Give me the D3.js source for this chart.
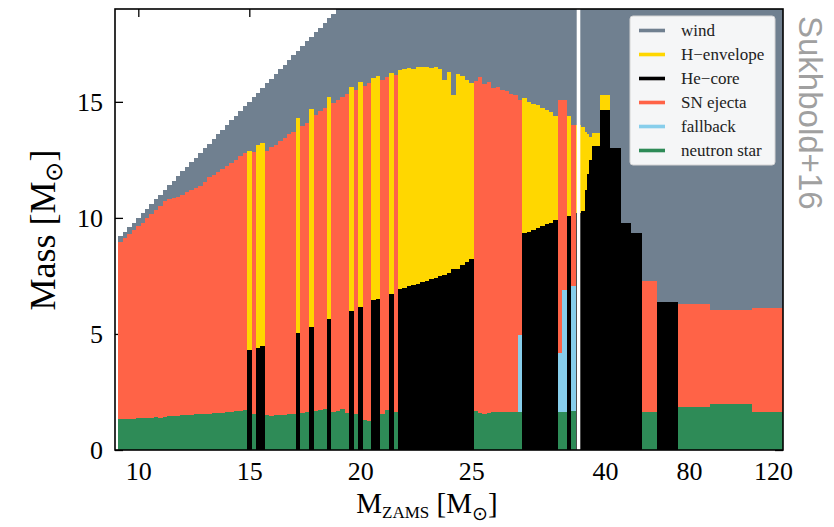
<!DOCTYPE html>
<html>
<head>
<meta charset="utf-8">
<title>Final fates of massive stars</title>
<script src="https://cdn.jsdelivr.net/npm/d3@7/dist/d3.min.js"></script>
<style>
  html, body { margin: 0; padding: 0; background: #fff; }
  svg { display: block; }
</style>
</head>
<body>
<svg id="chart" width="834" height="527"></svg>
<script>
// Initial (ZAMS) masses of the models, Msun: a fine grid up to ~30, then a coarse grid
const zamsMass = [
   9.2,  9.4,  9.6,  9.8, 10.0, 10.2, 10.4, 10.6, 10.8, 11.0,
  11.2, 11.4, 11.6, 11.8, 12.0, 12.2, 12.4, 12.6, 12.8, 13.0,
  13.2, 13.4, 13.6, 13.8, 14.0, 14.2, 14.4, 14.6, 14.8, 15.0,
  15.2, 15.4, 15.6, 15.8, 16.0, 16.2, 16.4, 16.6, 16.8, 17.0,
  17.2, 17.4, 17.6, 17.8, 18.0, 18.2, 18.4, 18.6, 18.8, 19.0,
  19.2, 19.4, 19.6, 19.8, 20.0, 20.2, 20.4, 20.6, 20.8, 21.0,
  21.2, 21.4, 21.6, 21.8, 22.0, 22.2, 22.4, 22.6, 22.8, 23.0,
  23.2, 23.4, 23.6, 23.8, 24.0, 24.2, 24.4, 24.6, 24.8, 25.0,
  25.2, 25.4, 25.6, 25.8, 26.0, 26.2, 26.4, 26.6, 26.8, 27.0,
  27.2, 27.4, 27.6, 27.8, 28.0, 28.2, 28.4, 28.6, 28.8, 29.0,
  29.2, 29.4, 29.6, 29.8,
  30, 31, 32, 33, 35, 40, 45, 50, 55, 60, 70, 80, 100, 120
];

// Mass of the star at core collapse (after wind losses), Msun
const finalMass = [
   8.95,  9.12,  9.30,  9.46,  9.63,  9.80,  9.98, 10.15, 10.33, 10.52,
  10.72, 10.82, 10.86, 10.92, 11.00, 11.10, 11.20, 11.28, 11.38, 11.55,
  11.75, 11.85, 11.98, 12.10, 12.22, 12.38, 12.50, 12.68, 12.80, 12.88,
  12.82, 13.15, 13.22, 12.90, 13.05, 13.15, 13.30, 13.45, 13.60, 13.72,
  14.30, 13.95, 14.10, 14.70, 14.45, 14.60, 14.75, 15.23, 14.95, 15.10,
  15.20, 15.35, 15.66, 15.50, 15.84, 15.70, 15.80, 16.02, 16.10, 15.95,
  16.05, 16.24, 16.15, 16.38, 16.42, 16.45, 16.40, 16.50, 16.48, 16.52,
  16.45, 16.50, 16.42, 15.95, 16.30, 15.30, 16.20, 16.10, 15.95, 15.80,
  15.90, 16.05, 15.75, 15.85, 15.60, 15.65, 15.50, 15.45, 15.35, 15.30,
  15.10, 15.15, 15.00, 14.90, 14.85, 14.75, 14.65, 14.55, 14.40, 15.10,
  15.10, 14.40, 14.00, 14.00,
  13.90, 13.70, 13.60, 13.50, 13.65, 15.30, 13.00, 9.77, 9.35, 7.27, 6.36, 6.30, 6.03, 6.13
];

// Helium-core mass of stars that collapse to a black hole (null: the star explodes)
const heCoreMass = [
  null, null, null, null, null, null, null, null, null, null,
  null, null, null, null, null, null, null, null, null, null,
  null, null, null, null, null, null, null, null, null, 4.31,
  null, 4.40, 4.48, null, null, null, null, null, null, null,
  5.06, null, null, 5.29, null, null, null, 5.63, null, null,
  null, null, 6.00, null, 6.18, null, null, 6.45, 6.52, null,
  null, 6.71, null, 6.93, 6.99, 7.05, 7.10, 7.17, 7.22, 7.30,
  7.36, 7.42, 7.50, 7.56, 7.62, 7.78, 7.80, 7.95, 8.10, 8.25,
  null, null, null, null, null, null, null, null, null, null,
  null, 9.34, 9.40, 9.48, 9.55, 9.63, 9.72, 9.80, 9.90, null,
  null, 10.10, null, 10.20,
  10.30, 11.20, 11.90, 12.50, 13.10, 14.65, 13.00, 9.77, 9.35, null, 6.36, null, null, null
];

// Neutron-star mass of exploding stars (null: black hole)
const nsMass = [
  1.32, 1.33, 1.35, 1.34, 1.36, 1.38, 1.37, 1.40, 1.41, 1.40,
  1.43, 1.45, 1.46, 1.48, 1.50, 1.49, 1.52, 1.53, 1.55, 1.55,
  1.57, 1.58, 1.60, 1.60, 1.62, 1.65, 1.66, 1.70, 1.72, null,
  1.55, null, null, 1.50, 1.48, 1.50, 1.50, 1.52, 1.55, 1.53,
  null, 1.60, 1.65, null, 1.68, 1.72, 1.78, null, 1.62, 1.70,
  1.78, 1.60, null, 1.55, null, 1.30, 1.26, null, null, 1.55,
  1.72, null, 1.65, null, null, null, null, null, null, null,
  null, null, null, null, null, null, null, null, null, null,
  1.70, 1.60, 1.55, 1.60, 1.62, 1.62, 1.65, 1.64, 1.63, 1.65,
  1.65, null, null, null, null, null, null, null, null, 1.65,
  1.65, null, 1.70, null,
  null, null, null, null, null, null, null, null, null, 1.65, null, 1.87, 1.97, 1.62
];

// Explosions with noticeable fallback: [M_ZAMS, fallback mass]
const fallbackMass = [[27.2, 3.30], [29.0, 2.55], [29.2, 5.25], [29.6, 5.35]];

// Axis ticks
const xTicksFine = [10, 15, 20, 25];
const xTicksCoarse = [40, 80, 120];
const yTicks = [0, 5, 10, 15];

// Mass components, legend order
const componentNames = ["wind", "H\u2212envelope", "He\u2212core", "SN ejecta", "fallback", "neutron star"];
const componentColors = ["#708090", "#ffd700", "#000000", "#ff6347", "#87ceeb", "#2e8b57"];

// ---------------------------------------------------------------------------
const svg = d3.select("#chart");
const plot = { left: 115, right: 783, top: 9, bottom: 450 };
const serif = "'Liberation Serif', 'Times New Roman', serif";
const color = d3.scaleOrdinal().domain(componentNames).range(componentColors);

// The mass axis is split: a fine linear section up to ~30 Msun and a
// compressed linear section above it, separated by a white break line.
const fineStep = 0.2;
const breakMass = 29.9;
const xFine = d3.scaleLinear().domain([8.95, breakMass]).range([plot.left, 580.1]);
const xCoarse = d3.scaleLinear().domain([28.33, 124.8]).range([580.5, plot.right]);
const y = d3.scaleLinear().domain([0, 19]).range([plot.bottom, plot.top]);

const coarseMasses = zamsMass.filter(m => m > breakMass);

function barEdges(m) {
  if (m < breakMass) return [xFine(m - fineStep / 2), xFine(m + fineStep / 2)];
  const j = coarseMasses.indexOf(m);
  const lo = j === 0 ? xCoarse.domain()[0] : (coarseMasses[j - 1] + m) / 2;
  const hi = j === coarseMasses.length - 1 ? xCoarse.domain()[1] : (m + coarseMasses[j + 1]) / 2;
  return [xCoarse(lo), xCoarse(hi)];
}

function fallbackOf(m) {
  const f = fallbackMass.find(d => Math.abs(d[0] - m) < 1e-6);
  return f ? f[1] : 0;
}

// Stack every model into its mass components
const segments = [];
zamsMass.forEach((m, i) => {
  const [x0, x1] = barEdges(m);
  const fin = finalMass[i];
  const push = (name, lo, hi) => { if (hi > lo) segments.push({ name, x0, x1, lo, hi }); };
  if (heCoreMass[i] != null) {
    push("He\u2212core", 0, heCoreMass[i]);
    push("H\u2212envelope", heCoreMass[i], fin);
  } else {
    const ns = nsMass[i];
    const fb = fallbackOf(m);
    push("neutron star", 0, ns);
    push("fallback", ns, ns + fb);
    push("SN ejecta", ns + fb, fin);
  }
  push("wind", fin, m);
});

// Axes (ticks point inward and sit underneath the bars)
const tickFont = g => g.attr("font-family", serif).attr("font-size", 26).attr("fill", "#000");
const noDomain = g => g.select(".domain").remove();

svg.append("g")
  .attr("transform", `translate(0,${plot.bottom})`)
  .call(d3.axisBottom(xFine).tickValues(xTicksFine).tickSize(-8).tickPadding(12).tickFormat(d3.format("d")))
  .call(noDomain).call(tickFont);
svg.append("g")
  .attr("transform", `translate(0,${plot.bottom})`)
  .call(d3.axisBottom(xCoarse).tickValues(xTicksCoarse).tickSize(-8).tickPadding(12).tickFormat(d3.format("d")))
  .call(noDomain).call(tickFont);
svg.append("g")
  .attr("transform", `translate(0,${plot.top})`)
  .call(d3.axisTop(xFine).tickValues(xTicksFine).tickSize(-8).tickFormat(""))
  .call(noDomain);
svg.append("g")
  .attr("transform", `translate(0,${plot.top})`)
  .call(d3.axisTop(xCoarse).tickValues(xTicksCoarse).tickSize(-8).tickFormat(""))
  .call(noDomain);
svg.append("g")
  .attr("transform", `translate(${plot.left},0)`)
  .call(d3.axisLeft(y).tickValues(yTicks).tickSize(-8).tickPadding(12).tickFormat(d3.format("d")))
  .call(noDomain).call(tickFont);
svg.append("g")
  .attr("transform", `translate(${plot.right},0)`)
  .call(d3.axisRight(y).tickValues(yTicks).tickSize(-8).tickFormat(""))
  .call(noDomain);
svg.selectAll(".tick line").attr("stroke", "#000").attr("stroke-width", 1.3);

// Bars
svg.append("clipPath").attr("id", "plot-clip")
  .append("rect")
  .attr("x", plot.left).attr("y", plot.top)
  .attr("width", plot.right - plot.left).attr("height", plot.bottom - plot.top);

svg.append("g")
  .attr("clip-path", "url(#plot-clip)")
  .attr("shape-rendering", "crispEdges")
  .selectAll("rect")
  .data(segments)
  .join("rect")
  .attr("x", d => d.x0)
  .attr("width", d => d.x1 - d.x0 + 0.6)
  .attr("y", d => y(d.hi))
  .attr("height", d => y(d.lo) - y(d.hi))
  .attr("fill", d => color(d.name));

// Axis break line
svg.append("rect")
  .attr("x", xFine(breakMass) - 3.4).attr("y", plot.top)
  .attr("width", 3.6).attr("height", plot.bottom - plot.top)
  .attr("fill", "#ffffff");

// Frame
svg.append("rect")
  .attr("x", plot.left).attr("y", plot.top)
  .attr("width", plot.right - plot.left).attr("height", plot.bottom - plot.top)
  .attr("fill", "none").attr("stroke", "#000").attr("stroke-width", 1.6);

// Legend
const legend = svg.append("g").attr("transform", "translate(630,16)");
legend.append("rect")
  .attr("width", 145).attr("height", 149).attr("rx", 3)
  .attr("fill", "#ffffff").attr("fill-opacity", 0.93)
  .attr("stroke", "#d4d4d4").attr("stroke-width", 1);
const entry = legend.selectAll("g.entry")
  .data(componentNames)
  .join("g").attr("class", "entry")
  .attr("transform", (d, i) => `translate(0,${14.5 + i * 24})`);
entry.append("line")
  .attr("x1", 9).attr("x2", 35)
  .attr("stroke", d => color(d)).attr("stroke-width", 3.6);
entry.append("text")
  .attr("x", 51).attr("dy", "0.33em")
  .attr("font-family", serif).attr("font-size", 17).attr("fill", "#222")
  .text(d => d);

// Axis titles
const yTitle = svg.append("text")
  .attr("transform", "translate(55,230) rotate(-90)")
  .attr("text-anchor", "middle")
  .attr("font-family", serif).attr("font-size", 36).attr("fill", "#000");
yTitle.append("tspan").text("Mass [M");
yTitle.append("tspan").attr("font-size", 24).attr("dy", 7).text("\u2299");
yTitle.append("tspan").attr("dy", -7).text("]");

const xTitle = svg.append("text")
  .attr("x", 427).attr("y", 513)
  .attr("text-anchor", "middle")
  .attr("font-family", serif).attr("font-size", 29).attr("fill", "#000");
xTitle.append("tspan").text("M");
xTitle.append("tspan").attr("font-size", 17).attr("dy", 5).text("ZAMS");
xTitle.append("tspan").attr("dy", -5).text(" [M");
xTitle.append("tspan").attr("font-size", 19).attr("dy", 7).text("\u2299");
xTitle.append("tspan").attr("dy", -7).text("]");

// Source credit
svg.append("text")
  .attr("transform", "translate(799,16) rotate(90)")
  .attr("font-family", "'Liberation Sans', Arial, sans-serif")
  .attr("font-size", 33).attr("fill", "#a0a0a0")
  .text("Sukhbold+16");
</script>
</body>
</html>
